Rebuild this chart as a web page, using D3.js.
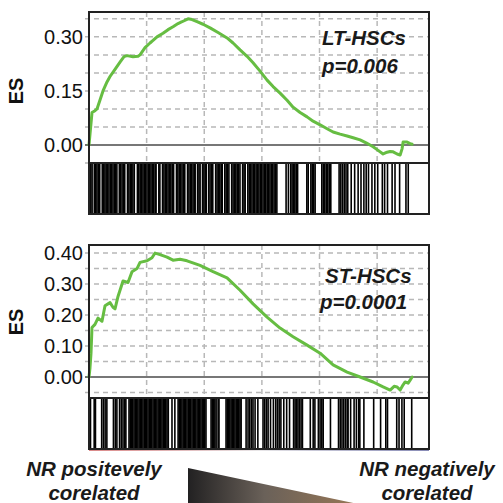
<!DOCTYPE html>
<html><head><meta charset="utf-8">
<script src="https://cdn.jsdelivr.net/npm/d3@7"></script>
<style>html,body{margin:0;padding:0;background:#fff;}svg{display:block;}</style>
</head><body>
<script>
// ---------- data ----------
const nGenes = 29500;
const xGridRanks = [5000, 10000, 15000, 20000, 25000];

const ltRank = [0,87,260,520,694,955,1215,1562,1823,2257,2691,3038,3298,3819,4253,4427,4861,5295,5555,5902,6423,6857,7291,7725,8072,8593,8940,9374,9895,10503,11197,11978,12499,13107,13714,14235,14843,15450,15971,16579,17186,17707,18315,18922,19443,20051,20658,21179,21787,22394,22915,23523,24044,24651,25085,25519,25866,26127,26387,26734,26995,27168,27255,27602,27863,28036];
const ltES   = [0,0.03,0.09,0.095,0.10,0.125,0.15,0.175,0.19,0.21,0.23,0.245,0.248,0.245,0.246,0.25,0.27,0.283,0.29,0.30,0.31,0.32,0.328,0.337,0.342,0.35,0.348,0.342,0.335,0.325,0.312,0.297,0.283,0.264,0.246,0.228,0.205,0.18,0.162,0.144,0.124,0.105,0.09,0.078,0.066,0.056,0.045,0.036,0.03,0.025,0.02,0.014,0.006,-0.005,-0.015,-0.025,-0.02,-0.018,-0.019,-0.025,-0.028,-0.01,0.008,0.008,0.004,0.002];
const ltHits = [40,160,270,460,580,690,810,930,1150,1260,1380,1490,1610,1730,1850,1960,2080,2200,2320,2420,2630,2750,2870,2990,3100,3340,3460,3580,3700,3810,3930,4200,4320,4440,4560,4680,4790,4910,5030,5150,5270,5380,5500,5620,5740,5820,6060,6150,6380,6500,6620,6740,6860,6980,7100,7220,7340,7590,7710,7830,7950,8070,8190,8310,8550,8670,8790,8910,9030,9150,9210,9420,9540,9640,9850,9970,10080,10170,10380,10500,10620,10740,10990,11110,11230,11350,11470,11560,11780,11900,12020,12140,12380,12500,12620,12740,12860,12980,13100,13330,13450,13550,13780,13900,14020,14140,14260,14380,14500,14620,14740,14860,14980,15100,15220,15340,15460,15580,15700,15820,15940,16060,16180,16300,17100,17300,17500,17620,17740,17860,17980,18100,18900,19020,19250,19370,19500,19620,20200,20330,20460,20590,20720,20850,20980,21700,21850,22000,22150,22300,22450,22750,23050,23350,23600,23850,24050,24250,24550,24800,25050,25450,25650,25900,26300,26550,26950,27500,27700];

const stRank = [0,87,174,260,520,781,1128,1389,1823,2083,2257,2517,2951,3385,3732,4166,4427,5034,5468,5729,6163,6770,7291,7899,8506,9635,10763,11978,13107,14235,15450,16579,17707,18922,20051,21179,22394,23523,24651,25519,26127,26474,26734,26995,27255,27429,27689,27863,28036];
const stES   = [0,0.03,0.077,0.16,0.17,0.19,0.18,0.23,0.24,0.225,0.22,0.26,0.31,0.305,0.34,0.35,0.37,0.375,0.385,0.40,0.395,0.387,0.377,0.38,0.375,0.36,0.34,0.32,0.28,0.236,0.193,0.158,0.13,0.103,0.077,0.039,0.016,0.0,-0.016,-0.032,-0.042,-0.03,-0.032,-0.042,-0.025,-0.016,-0.02,-0.01,0.0];
const stHits = [20,130,450,560,1100,1250,1400,1550,2120,2280,2420,2650,2800,2950,3100,3200,3470,3580,3690,3800,3910,4020,4130,4240,4350,4460,4570,4680,4790,4900,5010,5120,5230,5340,5450,5560,5670,5780,5890,6000,6110,6220,6330,6440,6550,6660,6770,6880,7200,7450,7730,7840,7950,8060,8170,8280,8390,8500,8610,8720,8830,8940,9050,9160,9270,9380,9490,9600,9710,9820,9930,10040,10150,10590,10700,10810,10920,11030,11200,11280,11890,12000,12110,12220,12330,12440,12550,12660,12770,12880,12990,13100,13200,13630,13800,13950,14100,14230,14410,14650,15100,15250,15400,15540,15750,16000,16200,16350,16500,16650,16900,17150,17400,17750,17880,18000,18130,18260,18400,18520,19200,19450,19600,19900,20050,20200,20320,20950,21650,21800,21950,22100,22250,22400,22480,22700,23000,23200,23400,23500,23850,24700,25300,25750,25900,26700,26900,27150,27350,28000];

const ltTicks = [0.00, 0.15, 0.30];
const ltGrid  = [-0.05, 0.05, 0.10, 0.15, 0.20, 0.25, 0.30, 0.35];
const stTicks = [0.00, 0.10, 0.20, 0.30, 0.40];
const stGrid  = [-0.05, 0.05, 0.10, 0.15, 0.20, 0.25, 0.30, 0.35, 0.40];

const panelNames = ["LT-HSCs", "ST-HSCs"];
const panelPvals = ["p=0.006", "p=0.0001"];
const axisTitle = "ES";
const leftLabel = ["NR positevely", "corelated"];
const rightLabel = ["NR negatively", "corelated"];

// ---------- layout ----------
const W = 503, H = 503;
const X0 = 89, X1 = 429;
const panels = [
  {rank: ltRank, es: ltES, hits: ltHits, ticks: ltTicks, grid: ltGrid, yDom: [-0.05, 0.369], top: 12, esBottom: 163, barBottom: 214,
   name: panelNames[0], p: panelPvals[0], nameX: 322, nameY: 45, pX: 322, pY: 72.5, titleY: 91, colorBar: false},
  {rank: stRank, es: stES, hits: stHits, ticks: stTicks, grid: stGrid, yDom: [-0.0677, 0.426], top: 245, esBottom: 398, barBottom: 449,
   name: panelNames[1], p: panelPvals[1], nameX: 325, nameY: 283, pX: 320, pY: 309, titleY: 322, colorBar: true}
];
const green = "#66bd42";
const font = "'Liberation Sans', Arial, Helvetica, sans-serif";

const svg = d3.select("body").append("svg").attr("width", W).attr("height", H);
const defs = svg.append("defs");

const x = d3.scaleLinear().domain([0, nGenes]).range([X0, X1]);

panels.forEach((P, i) => {
  const y = d3.scaleLinear().domain(P.yDom).range([P.esBottom, P.top]);
  const g = svg.append("g");

  g.selectAll(".hg").data(P.grid).join("line")
    .attr("x1", X0 - 4).attr("x2", X1)
    .attr("y1", d => y(d)).attr("y2", d => y(d))
    .attr("stroke", "#b8b8b8").attr("stroke-width", 1.5).attr("stroke-dasharray", "5,4");
  g.selectAll(".vg").data(xGridRanks).join("line")
    .attr("x1", d => x(d)).attr("x2", d => x(d))
    .attr("y1", P.top).attr("y2", P.esBottom)
    .attr("stroke", "#b8b8b8").attr("stroke-width", 1.5).attr("stroke-dasharray", "5,4");
  g.append("line").attr("x1", X0 - 4).attr("x2", X0).attr("y1", y(0)).attr("y2", y(0))
    .attr("stroke", "#444").attr("stroke-width", 1.5);

  g.append("line").attr("x1", X0).attr("x2", X1).attr("y1", y(0)).attr("y2", y(0))
    .attr("stroke", "#4a4a4a").attr("stroke-width", 1.6);

  const pts = P.rank.map((r, k) => [r, P.es[k]]);
  g.append("path").datum(pts)
    .attr("d", d3.line().x(d => x(d[0])).y(d => y(d[1])))
    .attr("fill", "none").attr("stroke", green).attr("stroke-width", 3)
    .attr("stroke-linejoin", "round").attr("stroke-linecap", "round");

  g.selectAll(".tl").data(P.ticks).join("text")
    .attr("x", 83).attr("y", d => y(d)).attr("dy", "0.36em")
    .attr("text-anchor", "end").attr("font-family", font).attr("font-size", 20)
    .attr("fill", "#111").text(d => d3.format(".2f")(d));

  g.append("text").attr("transform", `translate(23,${P.titleY}) rotate(-90)`)
    .attr("text-anchor", "middle").attr("font-family", font).attr("font-weight", "bold")
    .attr("font-size", 20).attr("fill", "#111").text(axisTitle);

  g.append("text").attr("x", P.nameX).attr("y", P.nameY).attr("font-family", font)
    .attr("font-weight", "bold").attr("font-style", "italic").attr("font-size", 20.5)
    .attr("fill", "#1a1a1a").text(P.name);
  g.append("text").attr("x", P.pX).attr("y", P.pY).attr("font-family", font)
    .attr("font-weight", "bold").attr("font-style", "italic").attr("font-size", 20.5)
    .attr("fill", "#1a1a1a").text(P.p);

  g.selectAll(".hit").data(P.hits).join("line")
    .attr("x1", d => x(d)).attr("x2", d => x(d))
    .attr("y1", P.esBottom).attr("y2", P.barBottom)
    .attr("stroke", "#000").attr("stroke-width", 1.6);

  if (P.colorBar) {
    const gid = "rb" + i;
    const lg = defs.append("linearGradient").attr("id", gid);
    lg.append("stop").attr("offset", "0%").attr("stop-color", "#c23a3a");
    lg.append("stop").attr("offset", "50%").attr("stop-color", "#d9d6d9");
    lg.append("stop").attr("offset", "100%").attr("stop-color", "#3a3f86");
    g.append("rect").attr("x", X0).attr("y", P.barBottom).attr("width", X1 - X0).attr("height", 1.6)
      .attr("fill", `url(#${gid})`);
  }

  g.append("rect").attr("x", X0).attr("y", P.top).attr("width", X1 - X0).attr("height", P.esBottom - P.top)
    .attr("fill", "none").attr("stroke", "#222").attr("stroke-width", 2);
  g.append("rect").attr("x", X0).attr("y", P.esBottom).attr("width", X1 - X0).attr("height", P.barBottom - P.esBottom)
    .attr("fill", "none").attr("stroke", "#222").attr("stroke-width", 2);
});

function twoLine(lines, cx) {
  const t = svg.append("text").attr("text-anchor", "middle").attr("font-family", font)
    .attr("font-weight", "bold").attr("font-style", "italic").attr("font-size", 20.5).attr("fill", "#1a1a1a");
  t.append("tspan").attr("x", cx).attr("y", 476).text(lines[0]);
  t.append("tspan").attr("x", cx).attr("y", 500).text(lines[1]);
}
twoLine(leftLabel, 94);
twoLine(rightLabel, 427);

const wg = defs.append("linearGradient").attr("id", "wedge");
wg.append("stop").attr("offset", "0%").attr("stop-color", "#222122");
wg.append("stop").attr("offset", "45%").attr("stop-color", "#6a6159");
wg.append("stop").attr("offset", "100%").attr("stop-color", "#987756");
svg.append("path").attr("d", "M188,468 L358,504 L188,504 Z").attr("fill", "url(#wedge)");
</script>
</body></html>
